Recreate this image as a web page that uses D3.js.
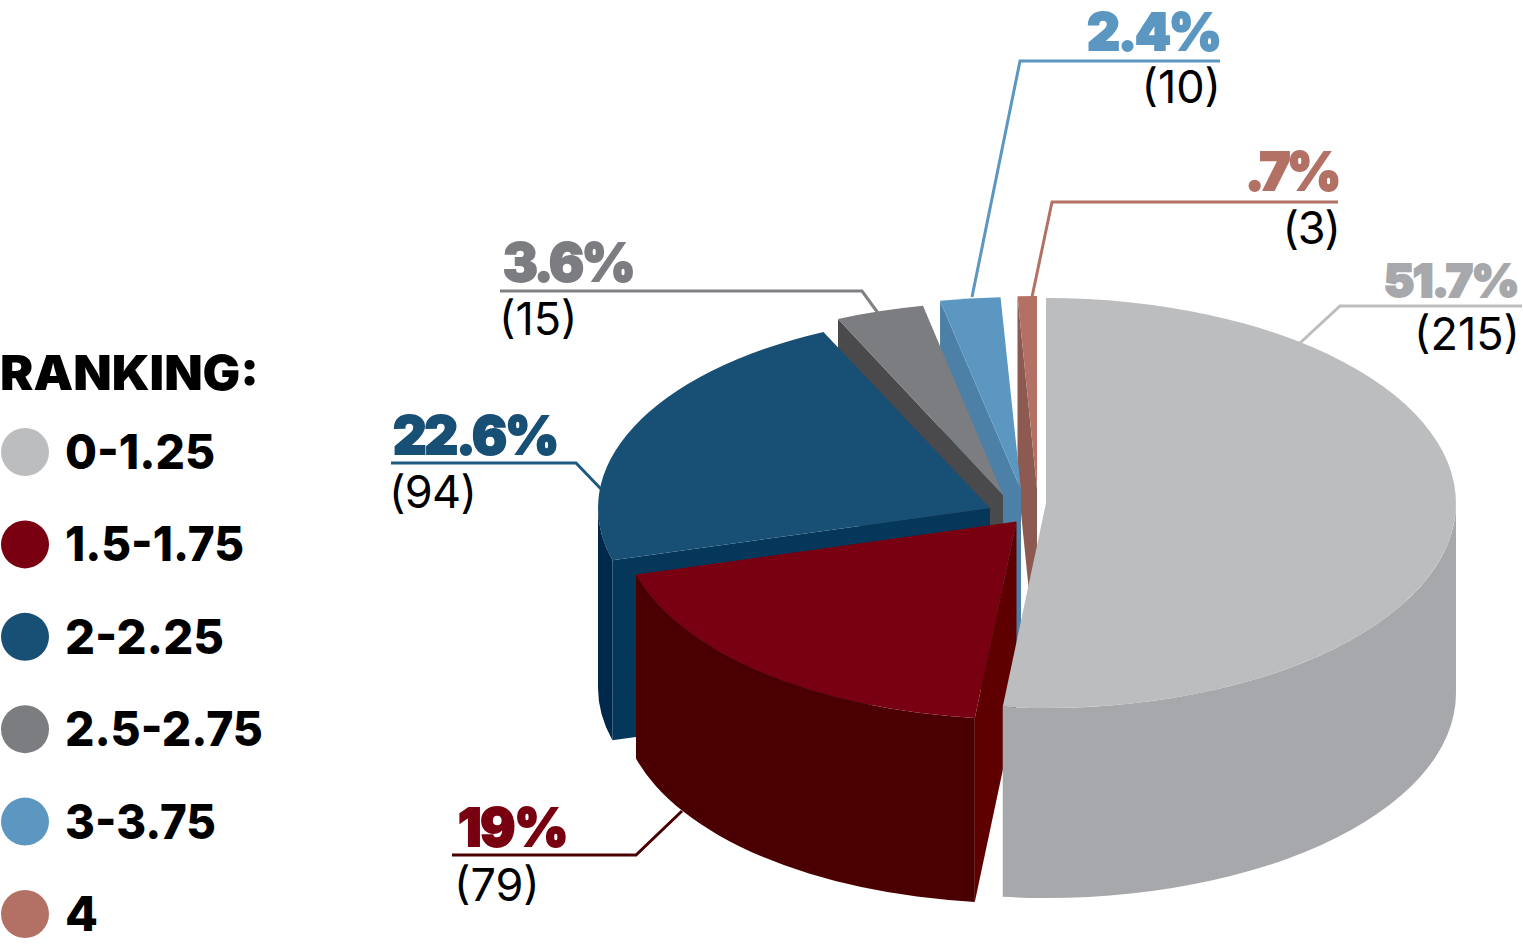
<!DOCTYPE html>
<html><head><meta charset="utf-8">
<style>html,body{margin:0;padding:0;background:#fff}svg{display:block}text{font-family:Inter,"Noto Sans",sans-serif}</style>
<script src="https://cdn.jsdelivr.net/npm/d3@7"></script></head><body>
<div id="chart"></div>
<script>
// ---- data ----
const categories = ["0-1.25","1.5-1.75","2-2.25","2.5-2.75","3-3.75","4"];
const counts = [215,79,94,15,10,3];
const percentLabels = ["51.7%","19%","22.6%","3.6%","2.4%",".7%"];
const legendTitle = "RANKING:";
// ---- styles ----
const topColors  = ["#bcbdbf","#780010","#184f75","#7c7d80","#5b97c0","#b37165"];
const wallColors = ["#a7a8ab","#4a0000","#00284a","#4a4a4c","#4c80a6","#8c5a50"];
const cutColors  = [null,"#5f0000","#05375a","#4a4a4c","#4c80a6","#8c5a50"];
const labelColors= ["#a7a8ab","#780010","#184f75","#7c7d80","#5b97c0","#b37165"];
const lineColors = ["#bcbdbf","#4a0000","#1f5a82","#808184","#5b97c0","#b37165"];
const legendWidths = [150,179,159,198,151,33];
// ---- exploded-slice geometry: apex, radii, extrusion, small rim trim (radians) ----
const geom = [
 {cx:1046,cy:503,rx:410,ry:205,d:190,trim:0},
 {cx:1016.5,cy:521.5,rx:395,ry:197.5,d:184,trim:0},
 {cx:990,cy:508,rx:392,ry:194.5,d:180,trim:0.016},
 {cx:1003,cy:495,rx:402,ry:193,d:182,trim:0.004},
 {cx:1021,cy:490,rx:415,ry:193,d:182,trim:0.004},
 {cx:1037,cy:489,rx:430,ry:193,d:182,trim:0}
];
const labelLayout = [
 {pct:[1518,297,46,-1.6],cnt:[1520,350,0],anchor:"end",line:[[1522,306],[1340,306],[1300,343]]},
 {pct:[458,846,52,-1.2],cnt:[454,901,0],anchor:"start",line:[[452,855],[636,855],[682,811]]},
 {pct:[393,454,52,-2],cnt:[389,508,-0.6],anchor:"start",line:[[391,463],[576,463],[601,489]]},
 {pct:[503,281,52,-2.7],cnt:[499,335,0],anchor:"start",line:[[500,291],[862,291],[878,313]]},
 {pct:[1220,49.5,51,-2],cnt:[1221,103,0],anchor:"end",line:[[1220,61],[1020,61],[972,297]]},
 {pct:[1338,190,52,-3.3],cnt:[1340,244,-1],anchor:"end",line:[[1338,202],[1052,202],[1032,297]]}
];

const W=1523,H=951;
const svg=d3.select("#chart").append("svg").attr("width",W).attr("height",H).attr("viewBox",`0 0 ${W} ${H}`);
const slices=d3.pie().sort(null).value(d=>d)(counts);
const pt=(g,a,dz=0)=>[g.cx+g.rx*Math.sin(a),g.cy-g.ry*Math.cos(a)+dz];
const P=p=>p[0].toFixed(2)+","+p[1].toFixed(2);
const arcTo=(g,a0,a1,dz=0)=>{const e=pt(g,a1,dz);const large=Math.abs(a1-a0)>Math.PI?1:0;const sweep=a1>a0?1:0;
  return `A${g.rx},${g.ry} 0 ${large} ${sweep} ${P(e)}`;};
const lineGen=d3.line();

// leader lines go under the pie
const leaders=svg.append("g").attr("fill","none").attr("stroke-width",3);
labelLayout.forEach((l,i)=>leaders.append("path").attr("d",lineGen(l.line)).attr("stroke",lineColors[i]));

// painter's order: back slices first, big grey last
const pie=svg.append("g");
[5,4,3,2,1,0].forEach(i=>{
  const s=slices[i],g=geom[i],a0=s.startAngle,a1=s.endAngle-g.trim;
  const G=pie.append("g");
  // outer wall: only the front half of the rim (between 90deg and 270deg)
  const w0=Math.max(a0,Math.PI/2),w1=Math.min(a1,Math.PI*1.5);
  if(w1>w0){
    G.append("path").attr("fill",wallColors[i]).attr("d",
      `M${P(pt(g,w0))}${arcTo(g,w0,w1)}L${P(pt(g,w1,g.d))}${arcTo(g,w1,w0,g.d)}Z`);
  }
  // radial cut face at the start angle
  if(cutColors[i]){
    const apex=[g.cx,g.cy],rim=pt(g,a0);
    G.append("path").attr("fill",cutColors[i]).attr("d",
      `M${P(apex)}L${P(rim)}L${P([rim[0],rim[1]+g.d])}L${P([apex[0],apex[1]+g.d])}Z`);
  }
  // top face
  G.append("path").attr("fill",topColors[i]).attr("d",
    `M${P([g.cx,g.cy])}L${P(pt(g,a0))}${arcTo(g,a0,a1)}Z`);
});

// labels
const lab=svg.append("g");
labelLayout.forEach((l,i)=>{
  lab.append("text").attr("x",l.pct[0]).attr("y",l.pct[1]).attr("text-anchor",l.anchor)
    .attr("font-size",l.pct[2]).attr("font-weight",900).attr("letter-spacing",l.pct[3]+"px")
    .attr("fill",labelColors[i]).attr("stroke",labelColors[i]).attr("stroke-width",1.8).text(percentLabels[i]);
  lab.append("text").attr("x",l.cnt[0]).attr("y",l.cnt[1]).attr("text-anchor",l.anchor)
    .attr("font-size",45).attr("font-weight",400).attr("letter-spacing",l.cnt[2]+"px")
    .attr("fill","#000").text(`(${counts[i]})`);
});

// legend
const lg=svg.append("g");
lg.append("text").attr("x",0).attr("y",390).attr("font-size",48).attr("font-weight",900)
  .attr("textLength",259).attr("lengthAdjust","spacingAndGlyphs").attr("fill","#000").text(legendTitle);
const ly=d3.scalePoint().domain(categories).range([452,914]);
categories.forEach((c,i)=>{
  lg.append("circle").attr("cx",25).attr("cy",ly(c)).attr("r",24).attr("fill",topColors[i]);
  lg.append("text").attr("x",65).attr("y",ly(c)+17).attr("font-size",48).attr("font-weight",800)
    .attr("textLength",legendWidths[i]).attr("lengthAdjust","spacingAndGlyphs").attr("fill","#000").text(c);
});
</script></body></html>
